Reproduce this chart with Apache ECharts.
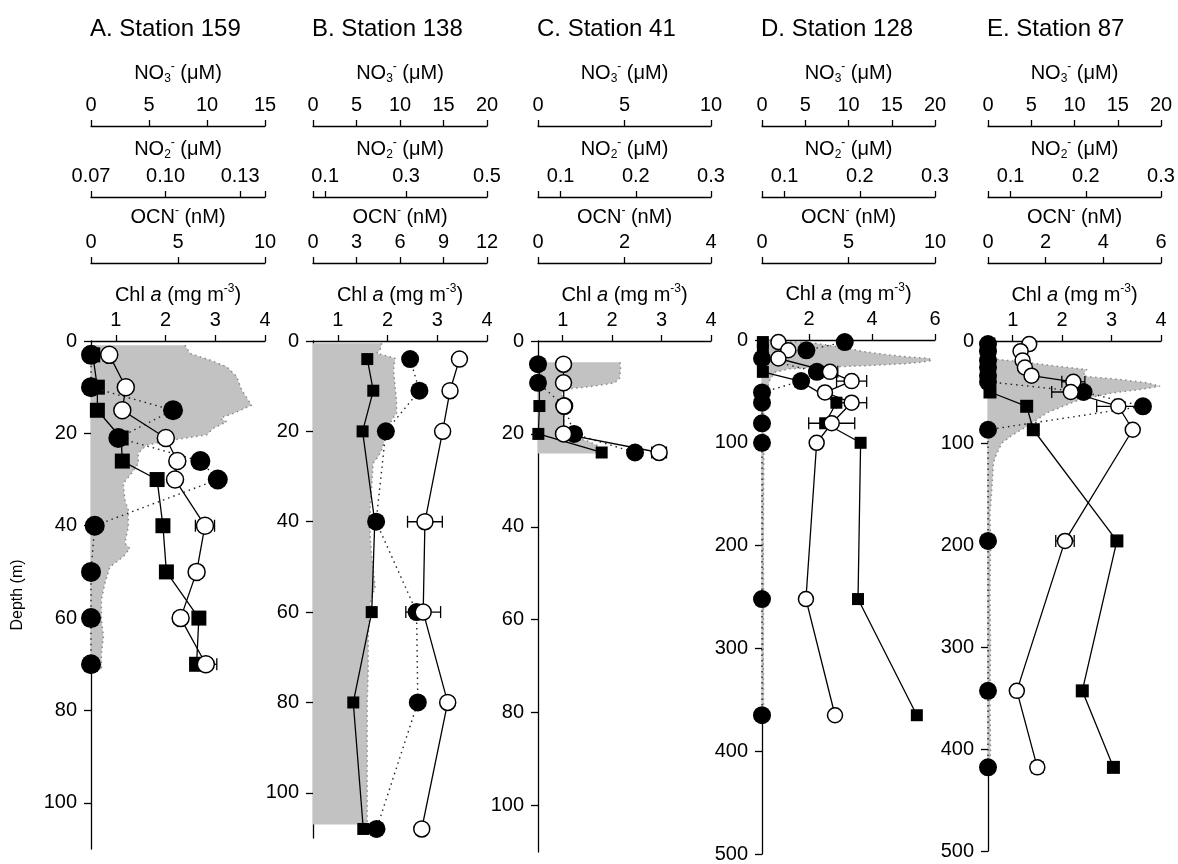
<!DOCTYPE html>
<html>
<head>
<meta charset="utf-8">
<title>Depth profiles</title>
<script src="https://cdn.jsdelivr.net/npm/echarts@6/dist/echarts.min.js"></script>
<style>
  html, body { margin: 0; padding: 0; background: #fff; }
  #chart { width: 1178px; height: 864px; }
</style>
</head>
<body>
<div id="chart"></div>
<script>
// ---- Station 159 ----
const depthA = [3, 10, 15, 21, 26, 30, 40, 50, 60, 70];
const no3A = [0.15, 0.55, 0.55, 2.6, 2.7, 5.7, 6.2, 6.5, 9.3, 9.1];
const no2A = [0.07, 0.07, 0.103, 0.081, 0.114, 0.121, 0.0715, 0.07, 0.07, 0.07];
const ocnA = [1.05, 2.0, 1.8, 4.3, 4.96, 4.83, 6.55, 6.07, 5.15, 6.6];
const ocnErrA = [0.1, 0.1, 0.1, 0.1, 0.1, 0.1, 0.55, 0.1, 0.37, 0.63];
const chlDepthA = [0.9, 2.7, 4.1, 5.6, 7.7, 10.6, 13.9, 15.7, 16.7, 17.5, 18.9, 20.3, 21.4, 22.5, 24.3, 26.5, 28.6, 30.8, 34.4, 36.6, 40.2, 43.8, 44.9, 46.7, 48.9, 52.4, 56, 60.4, 64, 67.6, 71.2];
const chlA = [2.39, 2.49, 2.89, 3.23, 3.43, 3.53, 3.73, 3.36, 3.1, 3.23, 2.96, 2.83, 2.16, 1.62, 1.45, 1.45, 1.32, 1.15, 1.18, 1.25, 1.25, 1.18, 1.28, 1.15, 0.88, 0.78, 0.71, 0.71, 0.75, 0.71, 0.71];

// ---- Station 138 ----
const depthB = [4, 11, 20, 40, 60, 80, 108];
const no3B = [6.24, 6.93, 5.7, 7.1, 6.75, 4.63, 5.78];
const no2B = [0.31, 0.333, 0.25, 0.226, 0.326, 0.329, 0.227];
const ocnB = [10.1, 9.45, 8.94, 7.72, 7.6, 9.29, 7.5];
const ocnErrB = [0.15, 0.2, 0.2, 1.2, 1.2, 0.2, 0.1];
const chlDepthB = [0.5, 2, 2.7, 3.8, 6.4, 10, 13, 16, 17.5, 20.8, 24.1, 25.6, 27, 32.2, 36.7, 43.3, 47.7, 54.4, 58, 65.4, 72.8, 80.2, 91.2, 98.6, 106, 107];
const chlB = [1.88, 1.85, 1.78, 2.15, 2.12, 2.15, 2.18, 2.18, 2.08, 1.98, 1.88, 1.81, 1.71, 1.68, 1.65, 1.65, 1.68, 1.75, 1.65, 1.61, 1.61, 1.59, 1.59, 1.59, 1.59, 1.59];

// ---- Station 41 ----
const depthC = [5, 9, 14, 20, 24];
const no3C = [0.08, 0.08, 0.08, 0.02, 3.68];
const no2C = [0.07, 0.07, 0.105, 0.118, 0.199];
const ocnC = [0.59, 0.59, 0.6, 0.59, 2.8];
const ocnErrC = [0.05, 0.05, 0.05, 0.05, 0.17];
const chlDepthC = [4.6, 6, 8, 9, 9.6, 10, 10.3, 11, 13, 15, 17, 19, 20.5, 21.5, 22.5, 23.5, 24.2];
const chlC = [2.16, 2.17, 2.15, 2.05, 1.7, 1.4, 1.1, 0.98, 1.0, 1.02, 1.03, 1.05, 1.15, 1.5, 1.7, 1.75, 1.7];

// ---- Station 128 ----
const depthD = [2, 10, 18, 31, 40, 51, 61, 81, 100, 252, 365];
const no3D = [0.1, 0.1, 0.1, 0.1, 4.4, null, 8.6, 7.3, 11.4, 11.1, 17.9];
const no2D = [0.18, 0.129, 0.07, 0.143, 0.122, 0.07, 0.07, 0.07, 0.07, 0.07, 0.07];
const ocnD = [0.95, 1.52, 0.95, 3.93, 5.18, 3.64, 5.18, 4.03, 3.16, 2.54, 4.22];
const ocnErrD = [0.1, 0.1, 0.1, 0.45, 0.87, 0.2, 0.87, 1.33, 0.1, 0.15, 0.2];
const chlDepthD = [0, 1.5, 3.2, 7, 11.4, 14, 16.2, 17.2, 17.8, 20, 21.5, 23, 24, 25, 25.8, 26.5, 28.2, 31.4, 38.8, 43.7, 48.5, 60, 80, 100, 150, 200, 250, 300, 365];
const chlD = [0.6, 1.3, 2.2, 3.0, 3.77, 4.4, 5.05, 5.5, 5.79, 5.9, 5.6, 5.05, 4.4, 3.77, 3.1, 2.4, 1.34, 0.91, 0.75, 0.7, 0.6, 0.56, 0.55, 0.56, 0.55, 0.54, 0.55, 0.54, 0.55];

// ---- Station 87 ----
const depthE = [3, 10, 19, 26, 34, 40, 50, 64, 87, 196, 343, 418];
const no3E = [0.1, 0.1, 0.1, 0.1, 0.1, 0.1, 0.23, 4.47, 5.24, 14.9, 10.9, 14.5];
const no2E = [0.07, 0.07, 0.07, 0.07, 0.07, 0.07, 0.197, 0.276, 0.07, 0.07, 0.07, 0.07];
const ocnE = [1.43, 1.13, 1.2, 1.28, 1.51, 2.96, 2.87, 4.52, 5.02, 2.67, 1.0, 1.71];
const ocnErrE = [0.05, 0.05, 0.05, 0.05, 0.05, 0.4, 0.66, 0.75, 0.15, 0.32, 0.1, 0.2];
const chlDepthE = [18, 21.4, 24.7, 28, 31, 34.5, 37.7, 41, 44.3, 47.5, 50.8, 54.1, 57.4, 63.9, 70.4, 81.9, 91.7, 100, 110, 119, 128, 150, 168, 200, 250, 300, 350, 400, 417];
const chlE = [0.68, 1.35, 1.89, 2.5, 2.45, 2.43, 3.17, 3.71, 3.98, 3.58, 3.04, 2.7, 2.36, 2.02, 1.69, 1.35, 1.01, 0.78, 0.68, 0.61, 0.6, 0.57, 0.54, 0.55, 0.54, 0.55, 0.54, 0.55, 0.54];

// ---- axis ticks ----
const stationTitles = ['A. Station 159', 'B. Station 138', 'C. Station 41', 'D. Station 128', 'E. Station 87'];
const no3Ticks = [[0, 5, 10, 15], [0, 5, 10, 15, 20], [0, 5, 10], [0, 5, 10, 15, 20], [0, 5, 10, 15, 20]];
const no3Max = [15, 20, 10, 20, 20];
const no2Ticks = [[0.07, 0.10, 0.13], [0.1, 0.3, 0.5], [0.1, 0.2, 0.3], [0.1, 0.2, 0.3], [0.1, 0.2, 0.3]];
const no2Max = [0.14, 0.5, 0.3, 0.3, 0.3];
const no2Decimals = [2, 1, 1, 1, 1];
const ocnTicks = [[0, 5, 10], [0, 3, 6, 9, 12], [0, 2, 4], [0, 5, 10], [0, 2, 4, 6]];
const ocnMax = [10, 12, 4, 10, 6];
const chlTicks = [[1, 2, 3, 4], [1, 2, 3, 4], [1, 2, 3, 4], [2, 4, 6], [1, 2, 3, 4]];
const chlMax = [4, 4, 4, 6, 4];
const depthTicks = [[0, 20, 40, 60, 80, 100], [0, 20, 40, 60, 80, 100], [0, 20, 40, 60, 80, 100], [0, 100, 200, 300, 400, 500], [0, 100, 200, 300, 400, 500]];
const depthMax = [110, 110, 110, 500, 500];
const depthTitle = 'Depth (m)';

const NO2_MIN = 0.07;
const CHL_MIN = 0.5;

// panel frames (pixels)
const frames = [
  { left: 91, top: 341, width: 174, height: 508 },
  { left: 313, top: 341, width: 174, height: 497 },
  { left: 538, top: 341, width: 173, height: 511 },
  { left: 762, top: 340, width: 173, height: 515 },
  { left: 988, top: 341, width: 173, height: 510 }
];
const axisRows = [126, 197, 263]; // NO3, NO2, OCN axis lines

const panels = [
  { depth: depthA, no3: no3A, no2: no2A, ocn: ocnA, err: ocnErrA, chlDepth: chlDepthA, chl: chlA, sq: 15, fc: 20, oc: 17 },
  { depth: depthB, no3: no3B, no2: no2B, ocn: ocnB, err: ocnErrB, chlDepth: chlDepthB, chl: chlB, sq: 12, fc: 18, oc: 16 },
  { depth: depthC, no3: no3C, no2: no2C, ocn: ocnC, err: ocnErrC, chlDepth: chlDepthC, chl: chlC, sq: 12, fc: 18, oc: 16 },
  { depth: depthD, no3: no3D, no2: no2D, ocn: ocnD, err: ocnErrD, chlDepth: chlDepthD, chl: chlD, sq: 12, fc: 18, oc: 15 },
  { depth: depthE, no3: no3E, no2: no2E, ocn: ocnE, err: ocnErrE, chlDepth: chlDepthE, chl: chlE, sq: 13, fc: 18, oc: 15 }
];

const FONT = '"Liberation Sans", Arial, Helvetica, sans-serif';
const INK = '#000';
const rich = {
  b: { fontSize: 20, lineHeight: 24, fontFamily: FONT, color: INK },
  i: { fontSize: 20, lineHeight: 24, fontFamily: FONT, fontStyle: 'italic', color: INK },
  sub: { fontSize: 12, lineHeight: 12, fontFamily: FONT, verticalAlign: 'bottom', color: INK },
  sup: { fontSize: 12, lineHeight: 12, fontFamily: FONT, verticalAlign: 'top', color: INK }
};
const names = [
  '{b|NO}{sub|3}{sup|-}{b| (\u03bcM)}',
  '{b|NO}{sub|2}{sup|-}{b| (\u03bcM)}',
  '{b|OCN}{sup|-}{b| (nM)}',
  '{b|Chl }{i|a}{b| (mg m}{sup|-3}{b|)}'
];
const nameGaps = [41, 29, 30, 34];

function topAxis(gridIndex, offset, min, max, labels, decimals, nameIdx, endTicks) {
  const ticks = endTicks ? Array.from(new Set([min].concat(labels, [max]))) : labels;
  return {
    type: 'value', gridIndex, position: 'top', offset, min, max,
    name: names[nameIdx], nameLocation: 'middle', nameGap: nameGaps[nameIdx],
    nameTextStyle: { rich },
    axisLine: { show: true, onZero: false, lineStyle: { color: INK, width: 1.3 } },
    axisTick: { show: true, inside: false, length: 6, customValues: ticks, lineStyle: { color: INK, width: 1.3 } },
    axisLabel: {
      show: true, margin: 11, customValues: labels, color: INK, fontSize: 20, fontFamily: FONT,
      formatter: v => Number(v).toFixed(decimals)
    },
    splitLine: { show: false }
  };
}

const grid = [], xAxis = [], yAxis = [], series = [], title = [];

panels.forEach((p, k) => {
  const f = frames[k];
  grid.push({ left: f.left, top: f.top, width: f.width, height: f.height, containLabel: false });
  title.push({
    text: stationTitles[k], left: f.left - 6, top: 12,
    textStyle: { fontSize: 24, fontWeight: 'normal', fontFamily: FONT, color: INK }
  });
  const off = axisRows.map(r => f.top - r);
  const xi = xAxis.length;
  xAxis.push(topAxis(k, off[0], 0, no3Max[k], no3Ticks[k], 0, 0, true));
  xAxis.push(topAxis(k, off[1], NO2_MIN, no2Max[k], no2Ticks[k], no2Decimals[k], 1, true));
  xAxis.push(topAxis(k, off[2], 0, ocnMax[k], ocnTicks[k], 0, 2, true));
  xAxis.push(topAxis(k, 0, CHL_MIN, chlMax[k], chlTicks[k], 0, 3, false));

  yAxis.push({
    type: 'value', gridIndex: k, inverse: true, min: 0, max: depthMax[k], position: 'left',
    axisLine: { show: true, onZero: false, lineStyle: { color: INK, width: 1.3 } },
    axisTick: { show: true, length: 7, customValues: depthTicks[k], lineStyle: { color: INK, width: 1.3 } },
    axisLabel: { margin: 14, customValues: depthTicks[k], color: INK, fontSize: 20, fontFamily: FONT },
    splitLine: { show: false }
  });

  const chlPts = p.chl.map((v, i) => [v, p.chlDepth[i]]);
  // shaded chlorophyll profile, filled from the depth axis
  series.push({
    type: 'custom', xAxisIndex: xi + 3, yAxisIndex: k, z: 1, silent: true, clip: true,
    data: chlPts,
    encode: { x: 0, y: 1 },
    renderItem: (params, api) => {
      if (params.dataIndex !== 0) return null;
      const pts = p.chl.map((v, i) => api.coord([v, p.chlDepth[i]]));
      const dEnd = p.chlDepth[p.chlDepth.length - 1];
      pts.push(api.coord([CHL_MIN, dEnd]));
      pts.push(api.coord([CHL_MIN, p.chlDepth[0]]));
      return { type: 'polygon', shape: { points: pts }, style: { fill: '#c2c2c2' } };
    }
  });
  series.push({
    type: 'line', xAxisIndex: xi + 3, yAxisIndex: k, z: 2, silent: true,
    data: chlPts, symbol: 'none', clip: true,
    lineStyle: { color: '#8a8a8a', width: 1.5, type: [1.5, 3.5] }
  });
  // nitrate
  series.push({
    type: 'line', xAxisIndex: xi, yAxisIndex: k, z: 3, clip: false, connectNulls: true,
    data: p.depth.map((d, i) => [p.no3[i], d]),
    symbol: 'rect', symbolSize: p.sq,
    itemStyle: { color: INK },
    lineStyle: { color: INK, width: 1.3 }
  });
  // nitrite
  series.push({
    type: 'line', xAxisIndex: xi + 1, yAxisIndex: k, z: 4, clip: false,
    data: p.depth.map((d, i) => [p.no2[i], d]),
    symbol: 'circle', symbolSize: p.fc,
    itemStyle: { color: INK },
    lineStyle: { color: '#222', width: 1.4, type: [1.5, 4] }
  });
  // cyanate error bars
  series.push({
    type: 'custom', xAxisIndex: xi + 2, yAxisIndex: k, z: 5, silent: true, clip: false,
    data: p.depth.map((d, i) => [p.ocn[i], d, p.err[i]]),
    encode: { x: 0, y: 1 },
    renderItem: (params, api) => {
      const x = api.value(0), y = api.value(1), e = api.value(2);
      const a = api.coord([x - e, y]), b = api.coord([x + e, y]);
      const cap = 6;
      const st = { stroke: INK, lineWidth: 1.3 };
      return {
        type: 'group', children: [
          { type: 'line', shape: { x1: a[0], y1: a[1], x2: b[0], y2: b[1] }, style: st },
          { type: 'line', shape: { x1: a[0], y1: a[1] - cap, x2: a[0], y2: a[1] + cap }, style: st },
          { type: 'line', shape: { x1: b[0], y1: b[1] - cap, x2: b[0], y2: b[1] + cap }, style: st }
        ]
      };
    }
  });
  // cyanate
  series.push({
    type: 'line', xAxisIndex: xi + 2, yAxisIndex: k, z: 6, clip: false,
    data: p.depth.map((d, i) => [p.ocn[i], d]),
    symbol: 'circle', symbolSize: p.oc,
    itemStyle: { color: '#fff', borderColor: INK, borderWidth: 1.5 },
    lineStyle: { color: INK, width: 1.3 }
  });
});

const chart = echarts.init(document.getElementById('chart'), null, { renderer: 'canvas' });
chart.setOption({
  animation: false,
  backgroundColor: '#fff',
  textStyle: { fontFamily: FONT },
  title, grid, xAxis, yAxis, series,
  // vertical depth caption, centred on the first panel
  graphic: [{
    type: 'text', x: 18, y: (frames[0].top + frames[0].top + frames[0].height) / 2,
    rotation: Math.PI / 2,
    style: {
      text: depthTitle, fontSize: 16, fontFamily: FONT, fill: INK,
      align: 'center', verticalAlign: 'middle'
    }
  }],
  tooltip: { show: false }
});
</script>
</body>
</html>
